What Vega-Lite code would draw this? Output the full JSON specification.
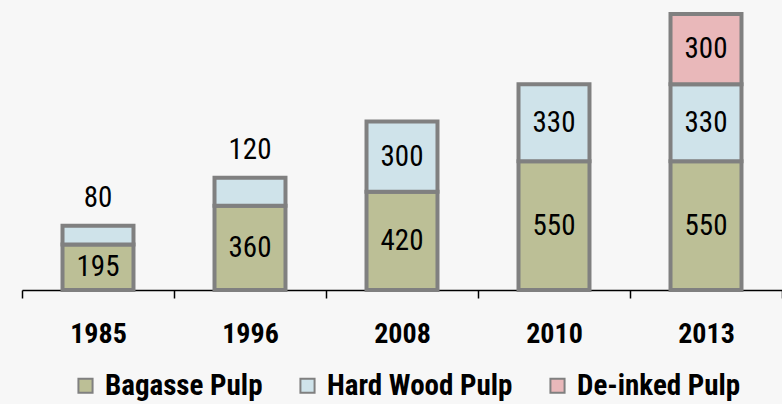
{
  "$schema": "https://vega.github.io/schema/vega-lite/v6.json",
  "width": 760,
  "height": 290,
  "autosize": "none",
  "padding": {"left": 22, "top": 0, "right": 0, "bottom": 114},
  "background": "#f7f7f7",
  "data": {
    "values": [
      {"year": "1985", "type": "Bagasse Pulp", "order": 1, "value": 195},
      {"year": "1985", "type": "Hard Wood Pulp", "order": 2, "value": 80},
      {"year": "1996", "type": "Bagasse Pulp", "order": 1, "value": 360},
      {"year": "1996", "type": "Hard Wood Pulp", "order": 2, "value": 120},
      {"year": "2008", "type": "Bagasse Pulp", "order": 1, "value": 420},
      {"year": "2008", "type": "Hard Wood Pulp", "order": 2, "value": 300},
      {"year": "2010", "type": "Bagasse Pulp", "order": 1, "value": 550},
      {"year": "2010", "type": "Hard Wood Pulp", "order": 2, "value": 330},
      {"year": "2013", "type": "Bagasse Pulp", "order": 1, "value": 550},
      {"year": "2013", "type": "Hard Wood Pulp", "order": 2, "value": 330},
      {"year": "2013", "type": "De-inked Pulp", "order": 3, "value": 300}
    ]
  },
  "encoding": {
    "x": {
      "field": "year",
      "type": "nominal",
      "scale": {"paddingInner": 0, "paddingOuter": 0},
      "axis": {
        "title": null,
        "labelAngle": 0,
        "domainColor": "#000000",
        "domainWidth": 1.5,
        "tickColor": "#000000",
        "tickWidth": 1.5,
        "tickSize": 8,
        "tickBand": "extent",
        "labelFont": "Roboto Condensed, DejaVu Sans Condensed, Liberation Sans, sans-serif",
        "labelFontSize": 28,
        "labelFontWeight": "bold",
        "labelColor": "#000000",
        "labelPadding": 22
      }
    }
  },
  "layer": [
    {
      "mark": {"type": "bar", "width": {"band": 0.467}, "stroke": "#808080", "strokeWidth": 4},
      "encoding": {
        "y": {"field": "value", "type": "quantitative", "stack": "zero", "scale": {"domain": [0, 1240], "nice": false}, "axis": null},
        "color": {
          "field": "type",
          "type": "nominal",
          "scale": {"domain": ["Bagasse Pulp", "Hard Wood Pulp", "De-inked Pulp"], "range": ["#bcbf96", "#cfe3ea", "#e9b8ba"]},
          "legend": {
            "title": null,
            "orient": "none",
            "direction": "horizontal",
            "legendX": 49,
            "legendY": 371,
            "symbolType": "square",
            "symbolSize": 200,
            "symbolStrokeColor": "#808080",
            "symbolStrokeWidth": 2,
            "labelFont": "Roboto Condensed, DejaVu Sans Condensed, Liberation Sans, sans-serif",
            "labelFontSize": 29,
            "labelFontWeight": "bold",
            "labelColor": "#000000",
            "labelOffset": 5,
            "labelLimit": 400,
            "columnPadding": 30,
            "padding": 0
          }
        },
        "order": {"field": "order"}
      }
    },
    {
      "mark": {"type": "text", "font": "Roboto Condensed, DejaVu Sans Condensed, Liberation Sans, sans-serif", "fontSize": 29, "color": "#000000", "baseline": "middle"},
      "encoding": {
        "y": {"field": "value", "type": "quantitative", "stack": "zero", "bandPosition": 0.5},
        "detail": {"field": "type"},
        "order": {"field": "order"},
        "text": {"field": "value", "type": "quantitative"},
        "opacity": {"condition": {"test": "datum.value > 150", "value": 1}, "value": 0}
      }
    },
    {
      "mark": {"type": "text", "font": "Roboto Condensed, DejaVu Sans Condensed, Liberation Sans, sans-serif", "fontSize": 29, "color": "#000000", "baseline": "middle", "dy": -28},
      "encoding": {
        "y": {"field": "value", "type": "quantitative", "stack": "zero"},
        "detail": {"field": "type"},
        "order": {"field": "order"},
        "text": {"field": "value", "type": "quantitative"},
        "opacity": {"condition": {"test": "datum.value <= 150", "value": 1}, "value": 0}
      }
    }
  ],
  "config": {"view": {"stroke": null}}
}
